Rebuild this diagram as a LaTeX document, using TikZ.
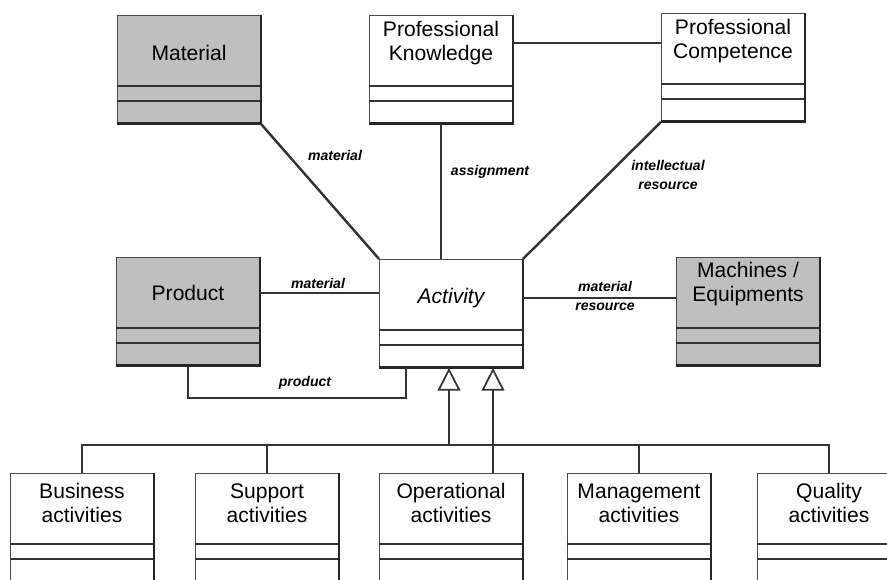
\documentclass[tikz,border=0pt]{standalone}
\usepackage{fontspec}
\setmainfont{Liberation Sans}
\usetikzlibrary{calc,arrows.meta}

\tikzset{
  cbox/.style={draw=black!70, line width=0.5pt, minimum width=2.86cm, minimum height=2.16cm, inner sep=0pt},
  cline/.style={draw=black!80, line width=1pt},
  edge/.style={draw=black!85, line width=1.6pt},
  ctext/.style={align=center, font=\fontsize{12}{13.5}\selectfont, inner sep=1pt},
  conn/.style={draw=black!80, line width=1.4pt},
  gen/.style={conn, -{Triangle[open, length=13pt, width=13pt, fill=white, line width=1pt]}},
  lab/.style={align=center, font=\fontsize{8}{11}\selectfont\bfseries\itshape, inner sep=1pt}
}

% class box: name, x, top y, fill, text offset, text
\newcommand{\classbox}[6]{%
  \node[cbox, fill=#4, anchor=north] (#1) at (#2,#3) {};
  \draw[cline] ($(#1.north west)+(0,71)$) -- ($(#1.north east)+(0,71)$);
  \draw[cline] ($(#1.north west)+(0,86)$) -- ($(#1.north east)+(0,86)$);
  \draw[edge] (#1.north east) -- (#1.south east) -- (#1.south west);
  \node[ctext] (#1-t) at ($(#1.north)+(0,#5)$) {#6};
}

\begin{document}
\begin{tikzpicture}[x=0.02cm, y=-0.02cm]
  \useasboundingbox (0,0) rectangle (887,579);
  \clip (0,0) rectangle (887,579);

  % upper row
  \classbox{mat}{189}{15}{black!25}{38}{Material}
  \classbox{pk}{441}{15}{white}{28}{Professional\\Knowledge}
  \classbox{pc}{733}{13}{white}{28}{Professional\\Competence}
  % middle row
  \classbox{prod}{188}{257}{black!25}{36}{Product}
  \classbox{act}{451}{259}{white}{39}{\itshape Activity}
  \classbox{mach}{748}{257}{black!25}{27}{Machines /\\Equipments}
  % lower row
  \classbox{bus}{82}{473}{white}{30}{Business\\activities}
  \classbox{sup}{267}{473}{white}{30}{Support\\activities}
  \classbox{ope}{451}{473}{white}{30}{Operational\\activities}
  \classbox{man}{639}{473}{white}{30}{Management\\activities}
  \classbox{qua}{829}{473}{white}{30}{Quality\\activities}

  % associations
  \draw[conn] (mat.south east) -- (act.north west);
  \draw[conn] (pk.south) -- (pk.south |- act.north);
  \draw[conn] (pc.south west) -- (act.north east);
  \draw[conn] (pk.east |- pk-t) -- (pc.west |- pk-t);
  \draw[conn] (prod.east |- prod-t) -- (act.west |- prod-t);
  \draw[conn] (act.east |- act-t) -- (mach.west |- act-t);
  \draw[conn] (prod.south) -- ++(0,32) -| ($(act.south)+(-45,0)$);

  \node[lab] (l1) at (335,155) {material};
  \node[lab] (l2) at (490,172) {assignment};
  \node[lab] (l3) at (668,175) {intellectual\\resource};
  \node[lab] (l4) at (318,283) {material};
  \node[lab] (l5) at (605,296) {material\\resource};
  \node[lab] (l6) at (305,383) {product};

  % generalizations
  \coordinate (gl) at (449,445);
  \coordinate (gr) at (493,445);
  \draw[conn] (bus.north) -- (bus.north |- gl) -- (qua.north |- gl) -- (qua.north);
  \draw[conn] (sup.north) -- (sup.north |- gl);
  \draw[conn] (man.north) -- (man.north |- gl);
  \draw[gen] (gl) -- (gl |- act.south);
  \draw[gen] (gr |- ope.north) -- (gr |- act.south);
\end{tikzpicture}
\end{document}
